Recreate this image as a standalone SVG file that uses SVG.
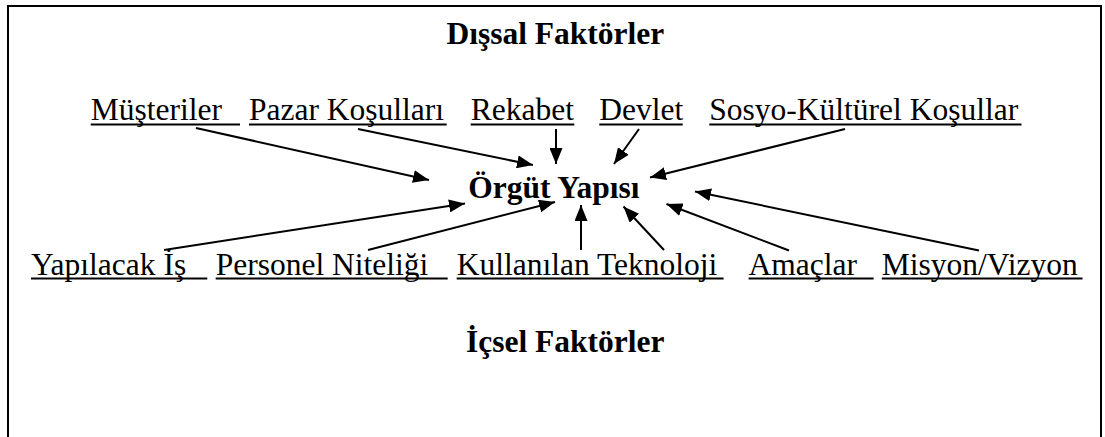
<svg xmlns="http://www.w3.org/2000/svg" width="1105" height="437" viewBox="0 0 1105 437">
  <style>
    .lbl { font-family: "Liberation Serif", "Times New Roman", serif; font-size: 31.5px; fill: #000; }
    .head { font-family: "Liberation Serif", "Times New Roman", serif; font-size: 31.5px; font-weight: bold; fill: #000; }
    .ul { stroke: #000; stroke-width: 2; }
    .frame { fill: none; stroke: #000; stroke-width: 2; }
    .conn line { stroke: #000; stroke-width: 2; marker-end: url(#arrow); }
  </style>
  <defs>
    <marker id="arrow" markerUnits="userSpaceOnUse" markerWidth="16" markerHeight="13" refX="16" refY="6.5" orient="auto">
      <path d="M0,0 L16,6.5 L0,13 Z" fill="#000"/>
    </marker>
  </defs>

  <rect width="1105" height="437" fill="#fff"/>
  <!-- outer frame, open at the bottom -->
  <path class="frame" d="M8,437 V6 H1101 V437"/>

  <g id="dissal-faktorler"><text class="head" x="446.4" y="44">Dışsal Faktörler</text></g>

  <!-- external factors -->
  <g id="musteriler"><text class="lbl" x="90.7" y="120">Müşteriler</text><line class="ul" x1="90.7" y1="124.5" x2="240" y2="124.5"/></g>
  <g id="pazar-kosullari"><text class="lbl" x="249" y="120">Pazar Koşulları</text><line class="ul" x1="249" y1="124.5" x2="446.7" y2="124.5"/></g>
  <g id="rekabet"><text class="lbl" x="470.7" y="120">Rekabet</text><line class="ul" x1="470.7" y1="124.5" x2="574.3" y2="124.5"/></g>
  <g id="devlet"><text class="lbl" x="599.3" y="120">Devlet</text><line class="ul" x1="599.3" y1="124.5" x2="682.7" y2="124.5"/></g>
  <g id="sosyo-kulturel"><text class="lbl" x="709.3" y="120">Sosyo-Kültürel Koşullar</text><line class="ul" x1="709.3" y1="124.5" x2="1021.5" y2="124.5"/></g>

  <!-- centre -->
  <g id="orgut-yapisi"><text class="head" x="468.3" y="198.3">Örgüt Yapısı</text></g>

  <!-- internal factors -->
  <g id="yapilacak-is"><text class="lbl" x="31" y="274.5">Yapılacak İş</text><line class="ul" x1="31" y1="278.5" x2="207.3" y2="278.5"/></g>
  <g id="personel-niteligi"><text class="lbl" x="215.7" y="274.5">Personel Niteliği</text><line class="ul" x1="215.7" y1="278.5" x2="447.7" y2="278.5"/></g>
  <g id="kullanilan-teknoloji"><text class="lbl" x="456.7" y="274.5">Kullanılan Teknoloji</text><line class="ul" x1="456.7" y1="278.5" x2="723.6" y2="278.5"/></g>
  <g id="amaclar"><text class="lbl" x="748.6" y="274.5">Amaçlar</text><line class="ul" x1="748.6" y1="278.5" x2="873.6" y2="278.5"/></g>
  <g id="misyon-vizyon"><text class="lbl" x="881.8" y="274.5">Misyon/Vizyon</text><line class="ul" x1="881.8" y1="278.5" x2="1082.5" y2="278.5"/></g>

  <g id="icsel-faktorler"><text class="head" x="466" y="352">İçsel Faktörler</text></g>

  <!-- connectors -->
  <g id="connectors" class="conn">
    <line x1="196" y1="128" x2="429" y2="180"/>
    <line x1="358" y1="129" x2="533" y2="165"/>
    <line x1="556" y1="129" x2="556" y2="164"/>
    <line x1="639" y1="129" x2="614" y2="164"/>
    <line x1="845" y1="129" x2="650" y2="177.5"/>
    <line x1="164" y1="250" x2="465" y2="203.5"/>
    <line x1="368" y1="250" x2="555" y2="202"/>
    <line x1="581" y1="250" x2="581" y2="205"/>
    <line x1="664" y1="250" x2="623.5" y2="206.5"/>
    <line x1="789" y1="250.5" x2="666.5" y2="204"/>
    <line x1="979" y1="250.5" x2="695" y2="191.5"/>
  </g>
</svg>
